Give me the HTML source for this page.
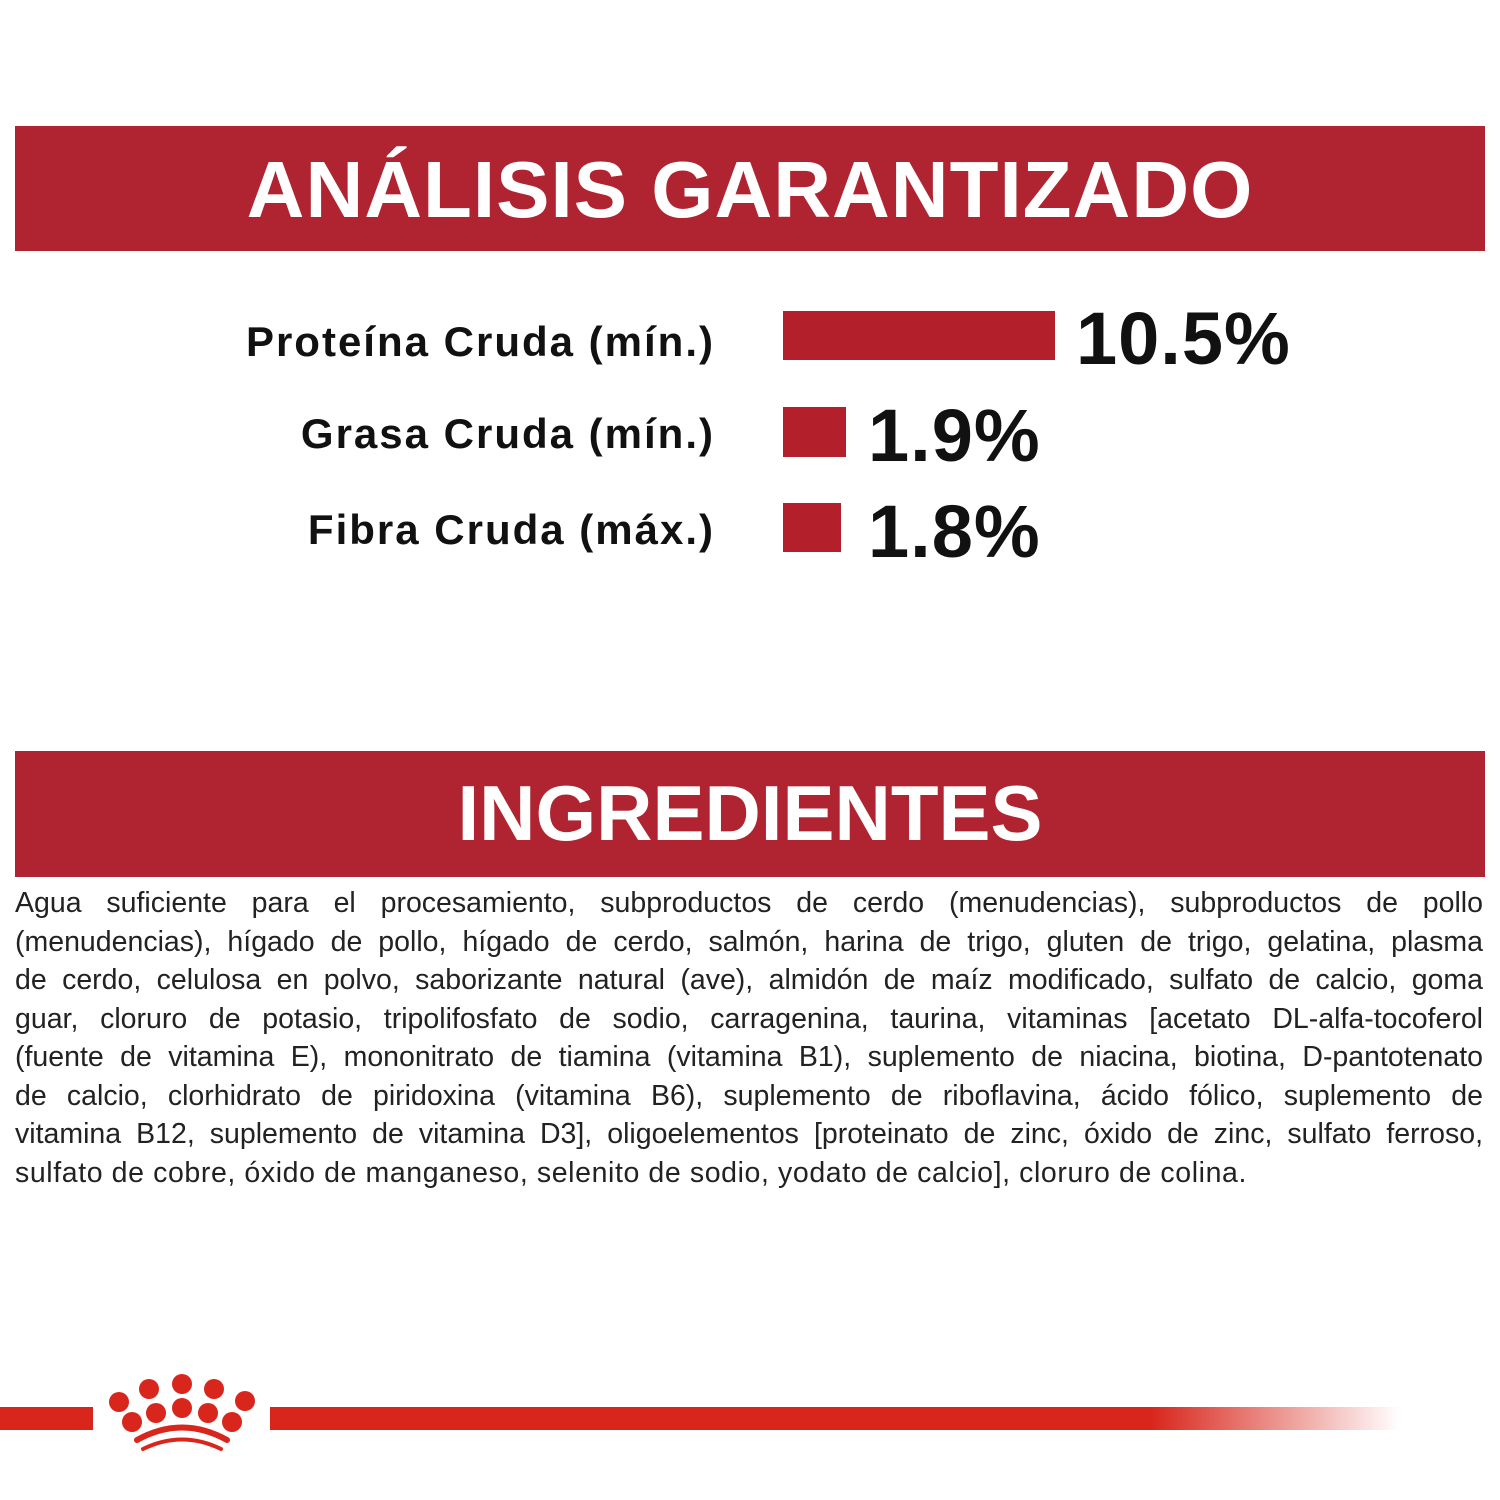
<!DOCTYPE html>
<html><head><meta charset="utf-8"><style>
body{margin:0;width:1500px;height:1500px;background:#fff;position:relative;overflow:hidden;font-family:"Liberation Sans",sans-serif;}
.hdr{position:absolute;left:15px;width:1470px;background:#af2430;color:#fff;font-weight:bold;text-align:center;}
.lab{position:absolute;right:785px;font-weight:bold;font-size:42px;color:#111;white-space:nowrap;letter-spacing:2px;}
.bar{position:absolute;left:783px;background:#b3202b;}
.val{position:absolute;font-weight:bold;font-size:74px;color:#111;white-space:nowrap;letter-spacing:1px;}
.ing{position:absolute;left:15px;width:1468px;font-size:28.5px;color:#222;}
.ing div{height:38.5px;line-height:38.5px;text-align:justify;text-align-last:justify;white-space:nowrap;overflow:visible}
.ing div.l{text-align-last:left;letter-spacing:0.6px}
</style></head><body>
<div class="hdr" style="top:126px;height:125px;line-height:128px;font-size:80px;letter-spacing:1px">ANÁLISIS GARANTIZADO</div>
<div class="lab" style="top:318px">Proteína Cruda (mín.)</div>
<div class="lab" style="top:410px">Grasa Cruda (mín.)</div>
<div class="lab" style="top:506px">Fibra Cruda (máx.)</div>
<div class="bar" style="top:311px;width:272px;height:49px"></div>
<div class="bar" style="top:407px;width:63px;height:50px"></div>
<div class="bar" style="top:503px;width:58px;height:49px"></div>
<div class="val" style="left:1076px;top:296px">10.5%</div>
<div class="val" style="left:868px;top:393px">1.9%</div>
<div class="val" style="left:868px;top:489px">1.8%</div>
<div class="hdr" style="top:751px;height:126px;line-height:124px;font-size:78px;">INGREDIENTES</div>
<div class="ing" style="top:884px">
<div>Agua suficiente para el procesamiento, subproductos de cerdo (menudencias), subproductos de pollo</div>
<div>(menudencias), hígado de pollo, hígado de cerdo, salmón, harina de trigo, gluten de trigo, gelatina, plasma</div>
<div>de cerdo, celulosa en polvo, saborizante natural (ave), almidón de maíz modificado, sulfato de calcio, goma</div>
<div>guar, cloruro de potasio, tripolifosfato de sodio, carragenina, taurina, vitaminas [acetato DL-alfa-tocoferol</div>
<div>(fuente de vitamina E), mononitrato de tiamina (vitamina B1), suplemento de niacina, biotina, D-pantotenato</div>
<div>de calcio, clorhidrato de piridoxina (vitamina B6), suplemento de riboflavina, ácido fólico, suplemento de</div>
<div>vitamina B12, suplemento de vitamina D3], oligoelementos [proteinato de zinc, óxido de zinc, sulfato ferroso,</div>
<div class="l">sulfato de cobre, óxido de manganeso, selenito de sodio, yodato de calcio], cloruro de colina.</div>
</div>
<svg style="position:absolute;left:0;top:1360px" width="1500" height="110">
<defs><linearGradient id="g" x1="0" x2="1"><stop offset="0.78" stop-color="#d9261c"/><stop offset="1" stop-color="#d9261c" stop-opacity="0"/></linearGradient></defs>
<rect x="0" y="47" width="93" height="23" fill="#d9261c"/>
<rect x="270" y="47" width="1130" height="23" fill="url(#g)"/>
<g fill="#d9261c">
<circle cx="119" cy="42" r="10"/><circle cx="149" cy="29" r="10"/><circle cx="182" cy="24" r="10"/><circle cx="214" cy="29" r="10"/><circle cx="245" cy="41" r="10"/>
<circle cx="132" cy="62" r="10"/><circle cx="156" cy="53" r="10"/><circle cx="182" cy="48" r="10"/><circle cx="208" cy="53" r="10"/><circle cx="232" cy="62" r="10"/>
</g>
<path d="M137 80 Q182 55 227 80" stroke="#d9261c" stroke-width="6" fill="none" stroke-linecap="round"/>
<path d="M143 89 Q182 70 221 89" stroke="#d9261c" stroke-width="4" fill="none" stroke-linecap="round"/>
</svg>
</body></html>
